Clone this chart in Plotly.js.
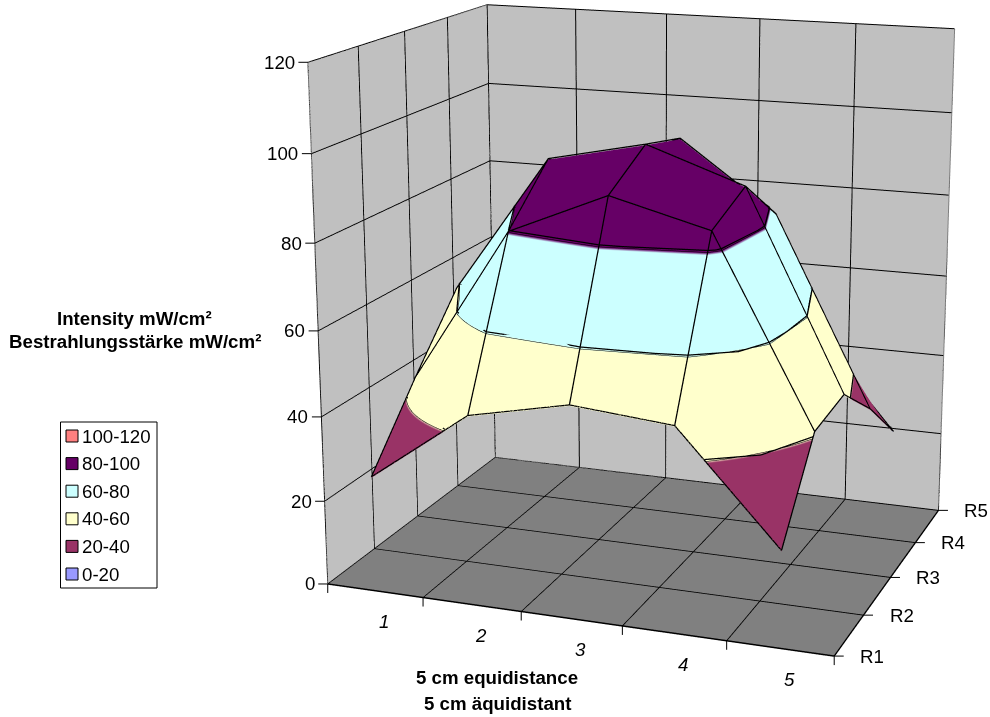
<!DOCTYPE html>
<html><head><meta charset="utf-8"><script src="https://cdn.plot.ly/plotly-3.0.1.min.js"></script>
<style>html,body{margin:0;padding:0;background:#fff;overflow:hidden;width:990px;height:717px}#c{position:absolute}</style></head>
<body><div id="c"></div>
<script>
const categories=[1,2,3,4,5];
const seriesNames=['R1','R2','R3','R4','R5'];
const seriesPos=[1,2,3,4,5];
const R1=[27,44,49,47,22];
const R2=[43.5,80,90,84,41];
const R3=[59,92,97,89,42.5];
const R4=[44,84,94,77.5,32];
const R5=[26,46,52,46,19];
const zTicks=[0,20,40,60,80,100,120];
const bandEdges=[20,40,60,80,100];
const xGrid=[.5,1.5,2.5,3.5,4.5,5.5];
const bandLabels=['100-120','80-100','60-80','40-60','20-40','0-20'];
const bandColors=['#ff8080','#660066','#ccffff','#ffffcc','#993366','#9999ff'];
const Zv=[R1,R2,R3,R4,R5];

// The plot is larger than the window so that the 3D view gets the long focal length of the original chart.
const VW=1308,VH=1966,LEFT=-3,TOP=-676;
const px=x=>(x-LEFT)/VW, py=y=>1-(y-TOP)/VH;
const gd=document.getElementById('c');gd.style.left=LEFT+'px';gd.style.top=TOP+'px';gd.style.width=VW+'px';gd.style.height=VH+'px';
const FONT='Liberation Sans, Arial, sans-serif',FS=18.7,INK='#000';
const cs=[];bandColors.slice().reverse().forEach((c,i)=>{cs.push([i/6,c],[(i+1)/6,c])});
const lift=.25,bandLift=.45,mx=[],my=[],mz=[];
const brk=()=>{mx.push(null);my.push(null);mz.push(null)};
const put=(a,b,c)=>{mx.push(a);my.push(b);mz.push(c)};
seriesPos.forEach((r,j)=>{categories.forEach((c,i)=>put(c,r,Zv[j][i]+lift));brk()});
categories.forEach((c,i)=>{seriesPos.forEach((r,j)=>put(c,r,Zv[j][i]+lift));brk()});
// band boundaries: followed across the two triangles per mesh cell
bandEdges.forEach(L=>{
 for(let j=0;j<4;j++)for(let i=0;i<4;i++){
  [[[i,j],[i+1,j],[i,j+1]],[[i+1,j+1],[i+1,j],[i,j+1]]].forEach(tri=>{
   const hits=[];
   for(let k=0;k<3;k++){const[a,b]=tri[k],[c,d]=tri[(k+1)%3],u=Zv[b][a],v=Zv[d][c];
    if((u<L)!==(v<L)){const t=(L-u)/(v-u);hits.push([categories[a]+t*(categories[c]-categories[a]),seriesPos[b]+t*(seriesPos[d]-seriesPos[b])])}}
   if(hits.length===2){put(hits[0][0],hits[0][1],L+bandLift);put(hits[1][0],hits[1][1],L+bandLift);brk()}
  });
 }});
const xa=xGrid[0],xb=xGrid[5],ya=seriesPos[0],yb=seriesPos[4],zb=zTicks[6];
const wx=[xa,xa,xa,xb,xb,null,xa,xa,null,xa,xa,xb],wy=[ya,ya,yb,yb,yb,null,yb,yb,null,ya,yb,yb],wz=[0,zb,zb,zb,0,null,0,zb,null,0,0,0];
const traces=[{type:'surface',x:categories,y:seriesPos,z:Zv,showscale:false,cmin:0,cmax:120,colorscale:cs,hoverinfo:'skip',
lighting:{ambient:1,diffuse:0,specular:0,fresnel:0,roughness:1},
contours:{x:{highlight:false},y:{highlight:false},z:{highlight:false,show:true,start:20,end:100,size:20,color:'#000',width:4}}},
{type:'scatter3d',mode:'lines',x:mx,y:my,z:mz,line:{color:'#000',width:2.5},hoverinfo:'skip',connectgaps:false},
{type:'scatter3d',mode:'lines',x:wx,y:wy,z:wz,line:{color:'#808080',width:2},hoverinfo:'skip',connectgaps:false}];
const tick=(x,y,z,ax,ay)=>({x,y,z,text:'&nbsp;',font:{size:1},showarrow:true,arrowhead:0,arrowwidth:1,arrowcolor:'#000',ax,ay});
const lab=(x,y,z,text,xshift,yshift,xanchor)=>({x,y,z,text,showarrow:false,xshift,yshift,xanchor,yanchor:'middle',font:{family:FONT,size:FS,color:INK}});
const sa=[];
xGrid.forEach(v=>sa.push(tick(v,ya,0,0,11)));
seriesPos.forEach(v=>sa.push(tick(xb,v,0,11,0)));
zTicks.forEach(v=>sa.push(tick(xa,ya,v,-11,0)));
categories.forEach(c=>sa.push(lab(c,ya,0,'<i>'+c+'</i>',9,-31,'center')));
seriesPos.forEach((v,j)=>sa.push(lab(xb,v,0,seriesNames[j],24,0,'left')));
zTicks.forEach(v=>sa.push(lab(xa,ya,v,String(v),-11,0,'right')));
const shapes=[{type:'rect',xref:'paper',yref:'paper',x0:px(60.5),x1:px(157),y0:py(422),y1:py(588),line:{color:'#000',width:1},fillcolor:'#fff'}];
const anns=[];
const text=(x,y,t,anchor)=>anns.push({xref:'paper',yref:'paper',x:px(x),y:py(y),text:t,showarrow:false,xanchor:anchor,yanchor:'middle',font:{family:FONT,size:FS,color:INK}});
bandLabels.forEach((t,i)=>{const yc=436+i*27.6;shapes.push({type:'rect',xref:'paper',yref:'paper',x0:px(66),x1:px(78),y0:py(yc-6),y1:py(yc+6),line:{color:'#000',width:1},fillcolor:bandColors[i]});text(80,yc,t,'left')});
text(134,318,'<b>Intensity mW/cm²</b>','center');
text(134.5,341,'<b>Bestrahlungsstärke mW/cm²</b>','center');
text(497,677,'<b>5 cm equidistance</b>','center');
text(497,703,'<b>5 cm äquidistant</b>','center');
const ax=(extra,bg)=>Object.assign({showticklabels:false,title:{text:''},gridcolor:'#000',gridwidth:2,showbackground:true,backgroundcolor:bg,zeroline:false,showspikes:false,ticks:'',showline:false},extra);
Plotly.newPlot('c',traces,
{width:VW,height:VH,margin:{l:0,r:0,t:0,b:0,pad:0},paper_bgcolor:'rgba(0,0,0,0)',showlegend:false,shapes,annotations:anns,
scene:{domain:{x:[0,1],y:[0,1]},aspectmode:'manual',aspectratio:{x:0.799737,y:0.637428,z:0.801497},
camera:{eye:{x:1.217067,y:-3.330011,z:0.951156},center:{x:0.008347,y:0.001025,z:-0.006968},up:{x:-0.000589,y:-0.000214,z:1},projection:{type:'perspective'}},annotations:sa,
xaxis:ax({range:[xa,xb],tickvals:xGrid,showline:true,linecolor:'#000',linewidth:3},'#c0c0c0'),
yaxis:ax({range:[ya,yb],tickvals:seriesPos,showline:true,linecolor:'#000',linewidth:3},'#c0c0c0'),
zaxis:ax({range:[0,120],tickvals:zTicks},'#808080')}},{displayModeBar:false});
</script></body></html>
